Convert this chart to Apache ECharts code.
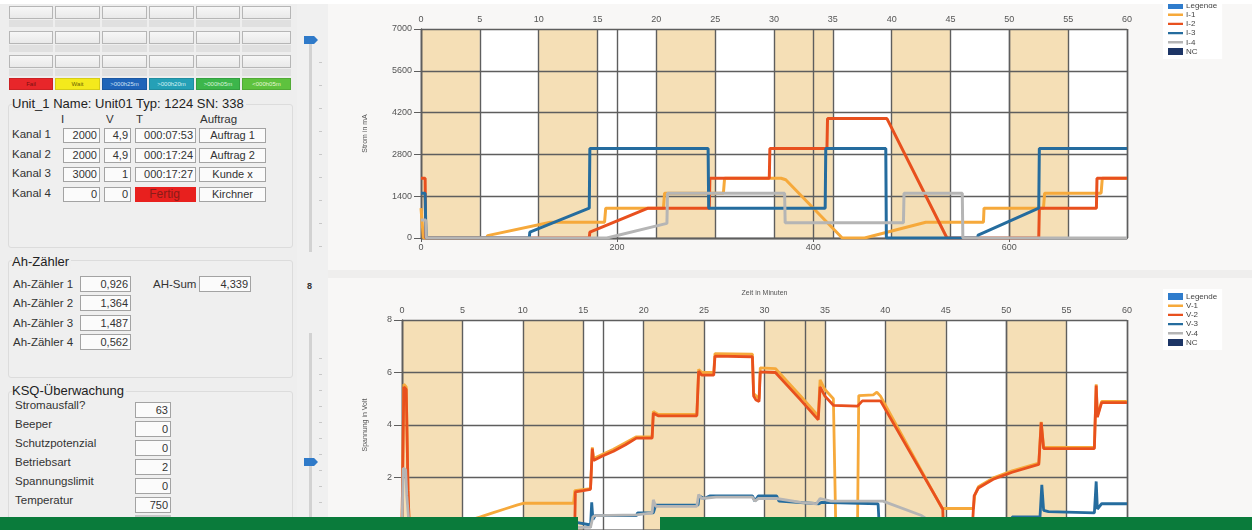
<!DOCTYPE html>
<html><head><meta charset="utf-8">
<script src="https://cdn.jsdelivr.net/npm/echarts@6/dist/echarts.min.js"></script>
<style>
html,body{margin:0;padding:0;}
body{width:1252px;height:530px;overflow:hidden;position:relative;background:#eeeeee;font-family:"Liberation Sans",Arial,sans-serif;color:#333;}
.btn{position:absolute;box-sizing:border-box;border:1px solid #b6b6b6;background:linear-gradient(#f7f7f7,#e9e9e9);}
.bar{position:absolute;background:#e0e0e0;}
.st{position:absolute;box-sizing:border-box;height:12px;font-size:6px;line-height:11px;text-align:center;border:1px solid rgba(0,0,0,0.12);}
.grp{position:absolute;box-sizing:border-box;border:1px solid #dcdcdc;border-radius:3px;background:#efefef;}
.ttl{position:absolute;font-size:13px;white-space:nowrap;color:#222;line-height:15px;}
.lbl{position:absolute;font-size:11.5px;white-space:nowrap;line-height:14px;color:#333;}
.tb{position:absolute;box-sizing:border-box;border:1px solid #a3a3a3;background:#fbfbfb;font-size:11px;text-align:right;padding-right:2px;line-height:13px;height:15px;white-space:nowrap;color:#333;}
.tick{position:absolute;width:3px;height:1px;background:#c8c8c8;}
#chart{position:absolute;left:328px;top:0;width:924px;height:530px;}
</style></head>
<body>
<div id="left"></div>
<div id="chart"></div>
<div style="position:absolute;left:0;top:0;width:1252px;height:4px;background:#ffffff;z-index:10"></div>
<div style="position:absolute;left:0;top:517px;width:578px;height:13px;background:#0a7b3b;z-index:10"></div>
<div style="position:absolute;left:660px;top:517px;width:592px;height:13px;background:#0a7b3b;z-index:10"></div>
<script>
// ---------- data ----------
const minuteTicks = [0,5,10,15,20,25,30,35,40,45,50,55,60];
const sampleTicks = [0,200,400,600];
const sampleMax = 720;
const currentTicks = [0,1400,2800,4200,5600,7000];
const voltTicks = [0,2,4,6,8];
const bandRanges = [[0,5],[10,15],[20,25],[30,35],[40,45],[50,55]];

const currentNames = ['I-1','I-2','I-3','I-4'];
const voltNames = ['V-1','V-2','V-3','V-4'];

// current in mA over minutes
const i1 = [[0,1000],[0.15,1000],[0.2,0],[5.6,0],[5.65,80],[11.0,530],[15.6,530],[15.7,1000],[20.6,1000],[20.7,1500],[25.7,1500],[25.8,2000],[30.6,2000],[31.0,1950],[35.8,0],[37.7,0],[37.75,60],[42.9,530],[47.8,530],[47.85,1000],[52.9,1000],[53.0,1500],[57.8,1500],[57.9,2000],[60,2000]];
const i2 = [[0,2000],[0.35,2000],[0.4,0],[14.3,0],[14.35,200],[19.3,1000],[24.5,1000],[24.55,2000],[29.6,2000],[29.65,3000],[34.5,3000],[34.55,4000],[39.6,4000],[44.7,0],[52.5,0],[52.55,1000],[57.4,1000],[57.45,2000],[60,2000]];
const i3 = [[0,1500],[0.35,1500],[0.4,500],[0.45,0],[9.2,0],[9.25,200],[14.3,1000],[14.35,3000],[24.4,3000],[24.45,1000],[34.35,1000],[34.4,3000],[39.5,3000],[39.55,0],[47.3,0],[47.35,100],[52.5,1000],[52.55,3000],[60,3000]];
const i4 = [[0,600],[0.4,600],[0.45,0],[15.8,0],[15.85,30],[20.9,490],[20.95,1500],[30.9,1500],[30.95,510],[41.0,510],[41.05,1500],[46.0,1500],[46.05,0],[60,0]];

// voltage in V over minutes
const v1 = [[0,0.2],[0.15,5.55],[0.35,5.45],[0.5,1.5],[0.6,0.1],[5.6,0.1],[5.65,0.38],[6.5,0.5],[7.5,0.65],[8.5,0.8],[9.5,0.95],[10.1,1.02],[14.2,1.02],[14.3,1.5],[15.6,1.58],[15.75,3.15],[15.85,2.72],[17.5,3.08],[19.4,3.55],[20.7,3.55],[20.8,4.52],[21.2,4.4],[24.4,4.4],[24.55,6.12],[24.8,6.0],[25.8,6.0],[25.9,6.72],[29.0,6.7],[29.1,5.2],[29.55,5.0],[29.65,6.18],[30.9,6.15],[33.0,5.1],[34.45,4.35],[34.6,5.72],[35.0,5.35],[35.7,5.0],[35.85,5.0],[35.9,0.1],[37.7,0.1],[37.8,5.12],[39.0,5.15],[39.3,5.25],[39.6,5.1],[44.7,0.82],[47.3,0.82],[47.4,1.32],[47.7,1.65],[49.0,2.0],[50.5,2.25],[52.7,2.55],[52.9,4.12],[53.1,3.15],[57.3,3.15],[57.45,5.55],[57.55,4.35],[57.9,4.9],[60,4.9]];
const v2 = [[0,0.2],[0.15,5.45],[0.35,5.35],[0.5,1.5],[0.6,0.2],[14.3,0.2],[14.35,1.45],[15.0,1.5],[15.6,1.55],[15.75,3.1],[15.85,2.65],[16.5,2.8],[17.5,3.0],[18.5,3.25],[19.4,3.5],[20.7,3.5],[20.8,4.45],[21.2,4.35],[24.4,4.35],[24.55,6.05],[24.8,5.9],[25.8,5.9],[25.9,6.62],[29.0,6.6],[29.1,5.1],[29.3,4.95],[29.55,4.9],[29.65,6.02],[30.9,6.0],[33.0,4.95],[34.45,4.2],[34.6,5.45],[35.0,5.1],[35.7,4.75],[37.7,4.72],[38.1,4.92],[39.6,4.92],[44.75,0.8],[44.8,0.1],[47.2,0.1],[47.35,1.3],[47.7,1.6],[49.0,1.95],[50.5,2.2],[52.7,2.5],[52.9,4.1],[53.1,3.1],[57.3,3.1],[57.45,5.5],[57.55,4.3],[57.9,4.85],[60,4.85]];
const v3 = [[0,0.1],[14.2,0.1],[14.3,0.3],[15.5,0.2],[15.6,0.1],[15.7,1.05],[15.8,0.4],[16.0,0.55],[19.4,0.55],[19.5,0.65],[20.8,0.65],[21.0,0.95],[24.5,0.95],[24.6,1.3],[25.0,1.2],[25.5,1.3],[29.0,1.3],[29.2,1.1],[29.5,1.3],[31.0,1.3],[31.2,1.1],[34.5,1.0],[34.7,1.05],[39.4,1.0],[39.5,0.1],[50.4,0.1],[50.5,0.5],[52.8,0.5],[52.95,1.72],[53.1,0.75],[53.5,0.7],[57.3,0.65],[57.45,1.85],[57.55,0.8],[57.9,1.0],[60,1.0]];
const v4 = [[0,0.1],[0.1,2.35],[0.3,2.3],[0.4,1.3],[0.6,0.1],[15.6,0.1],[15.8,0.5],[16.0,0.55],[19.4,0.58],[19.5,0.65],[20.7,0.65],[20.8,1.15],[21.0,0.9],[24.4,0.9],[24.55,1.35],[24.8,1.2],[26.0,1.25],[29.0,1.25],[29.2,1.1],[29.5,1.2],[31.0,1.2],[33.0,1.05],[34.3,1.0],[34.6,1.2],[35.5,1.1],[39.8,1.1],[43.0,0.55],[44.5,0.1],[60,0.1]];

// left panel values
const statusLabels = ['Fail','Wait','>000h25m','>000h20m','>000h05m','<000h05m'];
const kanalNames = ['Kanal 1','Kanal 2','Kanal 3','Kanal 4'];
const kanalI = ['2000','2000','3000','0'];
const kanalV = ['4,9','4,9','1','0'];
const kanalT = ['000:07:53','000:17:24','000:17:27','Fertig'];
const kanalAuftrag = ['Auftrag 1','Auftrag 2','Kunde x','Kirchner'];
const ahNames = ['Ah-Zähler 1','Ah-Zähler 2','Ah-Zähler 3','Ah-Zähler 4'];
const ahValues = ['0,926','1,364','1,487','0,562'];
const ahSum = '4,339';
const ksqNames = ['Stromausfall?','Beeper','Schutzpotenzial','Betriebsart','Spannungslimit','Temperatur'];
const ksqValues = ['63','0','0','2','0','750'];

// ---------- left panel ----------
(function(){
  const L = document.getElementById('left');
  let h = '';
  const colX = [9,55,102,149,196,242], colW = [44,45,45,45,44,49];
  [6,31,55].forEach(y => colX.forEach((x,i) => h += `<div class="btn" style="left:${x}px;top:${y}px;width:${colW[i]}px;height:13px"></div>`));
  [20,45,69].forEach(y => colX.forEach((x,i) => h += `<div class="bar" style="left:${x}px;top:${y}px;width:${colW[i]}px;height:7px"></div>`));
  const stBg = ['#e8262a','#f4ea1c','#1f64b9','#25a0b6','#3cb64b','#5ec23e'];
  const stFg = ['#7a1010','#6b6300','#cfe0f5','#d6f1f5','#d8f5da','#e5f7d8'];
  statusLabels.forEach((s,i)=> h += `<div class="st" style="left:${colX[i]}px;top:78px;width:${colW[i]}px;background:${stBg[i]};color:${stFg[i]}">${s.replace('<','&lt;').replace('>','&gt;')}</div>`);
  // group boxes
  h += `<div class="grp" style="left:8px;top:104px;width:285px;height:144px"></div>`;
  h += `<div class="ttl" style="left:12px;top:96px;background:#eeeeee;padding-right:2px">Unit_1 Name: Unit01 Typ: 1224 SN: 338</div>`;
  h += `<div class="lbl" style="left:61px;top:112px">I</div><div class="lbl" style="left:106px;top:112px">V</div><div class="lbl" style="left:136px;top:112px">T</div><div class="lbl" style="left:200px;top:112px">Auftrag</div>`;
  const rowTop = [128,148,167,187];
  kanalNames.forEach((n,i)=>{
    const y = rowTop[i];
    h += `<div class="lbl" style="left:12px;top:${y-1}px">${n}</div>`;
    h += `<div class="tb" style="left:63px;top:${y}px;width:37px">${kanalI[i]}</div>`;
    h += `<div class="tb" style="left:104px;top:${y}px;width:27px">${kanalV[i]}</div>`;
    if (kanalT[i]==='Fertig') h += `<div class="tb" style="left:135px;top:${y}px;width:61px;background:#e8201e;border-color:#e8201e;text-align:center;color:#8a1c18;font-size:12px">${kanalT[i]}</div>`;
    else h += `<div class="tb" style="left:135px;top:${y}px;width:61px">${kanalT[i]}</div>`;
    h += `<div class="tb" style="left:199px;top:${y}px;width:67px;text-align:center;padding:0">${kanalAuftrag[i]}</div>`;
  });
  h += `<div class="grp" style="left:8px;top:260px;width:285px;height:118px"></div>`;
  h += `<div class="ttl" style="left:12px;top:254px;background:#eeeeee;padding-right:2px">Ah-Zähler</div>`;
  const ahTop = [276,295,315,334];
  ahNames.forEach((n,i)=>{
    h += `<div class="lbl" style="left:13px;top:${ahTop[i]+1}px">${n}</div>`;
    h += `<div class="tb" style="left:80px;top:${ahTop[i]}px;width:51px;height:16px;line-height:14px">${ahValues[i]}</div>`;
  });
  h += `<div class="lbl" style="left:153px;top:277px">AH-Sum</div>`;
  h += `<div class="tb" style="left:199px;top:276px;width:52px;height:16px;line-height:14px">${ahSum}</div>`;
  h += `<div class="grp" style="left:8px;top:391px;width:285px;height:140px"></div>`;
  h += `<div class="ttl" style="left:12px;top:383px;background:#eeeeee;padding-right:2px">KSQ-Überwachung</div>`;
  const ksqTop = [402,421,440,459,478,497];
  ksqNames.forEach((n,i)=>{
    h += `<div class="lbl" style="left:15px;top:${ksqTop[i]-4}px">${n}</div>`;
    h += `<div class="tb" style="left:135px;top:${ksqTop[i]}px;width:36px;height:16px;line-height:14px">${ksqValues[i]}</div>`;
  });
  h += `<div style="position:absolute;left:135px;top:515px;width:36px;height:4px;background:#c8c8c8"></div>`;
  // slider column
  h += `<div style="position:absolute;left:297px;top:0;width:31px;height:530px;background:#f0f0f0"></div>`;
  h += `<div style="position:absolute;left:309px;top:40px;width:3px;height:212px;background:#d2d2d2"></div>`;
  h += `<div style="position:absolute;left:309px;top:333px;width:3px;height:197px;background:#d2d2d2"></div>`;
  for (let y=62;y<250;y+=23) h += `<div class="tick" style="left:319px;top:${y}px"></div>`;
  for (let y=358;y<530;y+=16) h += `<div class="tick" style="left:319px;top:${y}px"></div>`;
  const thumb = 'clip-path:polygon(0 0,72% 0,100% 50%,72% 100%,0 100%);background:#2f7ac9;';
  h += `<div style="position:absolute;left:304px;top:36px;width:14px;height:8px;${thumb}"></div>`;
  h += `<div style="position:absolute;left:304px;top:458px;width:14px;height:8px;${thumb}"></div>`;
  h += `<div style="position:absolute;left:307px;top:281px;font-size:9px;font-weight:bold;color:#333">8</div>`;
  L.innerHTML = h;
})();

// ---------- charts ----------
const seriesColors = ['#f6a93b','#e8501e','#256c9e','#b5b5b5'];
const legendBoxColor = '#2f7ccc';
const ncColor = '#1d3566';
const gridColor = '#5e5e5e';
const thinIcon = 'path://M0,0L0.01,0M0,7L0.01,7M0,2.3L15,2.3L15,4.7L0,4.7Z';
const plain = v => String(v);

function lineSeries(name, data, color, xi, yi, extra) {
  return Object.assign({
    name, type:'line', data, xAxisIndex:xi, yAxisIndex:yi, showSymbol:false, symbol:'none',
    color, lineStyle:{color, width:3}, silent:true, animation:false, z:2
  }, extra||{});
}
function bandArea() {
  return { silent:true, itemStyle:{color:'#f5dfb6'}, data: bandRanges.map(r => [{xAxis:r[0]},{xAxis:r[1]}]) };
}
const labelStyle = {color:'#555', fontSize:9, fontFamily:'Liberation Sans', formatter:plain};
function minuteAxis(gi, margin) {
  return {type:'value', gridIndex:gi, position:'top', min:minuteTicks[0], max:minuteTicks[minuteTicks.length-1],
    interval:minuteTicks[1]-minuteTicks[0], z:1.6,
    name:'Zeit in Minuten', nameLocation:'middle', nameGap: gi===0 ? 26 : 23,
    nameTextStyle:{color:'#555', fontSize:7, fontFamily:'Liberation Sans'},
    axisLine:{show:true, lineStyle:{color:gridColor, width:1.4}},
    axisTick:{show:true, length:3, lineStyle:{color:gridColor}},
    axisLabel:Object.assign({margin:margin}, labelStyle),
    splitLine:{show:true, lineStyle:{color:gridColor, width:1.4}}};
}
function sampleAxis(gi) {
  return {type:'value', gridIndex:gi, position:'bottom', min:sampleTicks[0], max:sampleMax,
    interval:sampleTicks[1]-sampleTicks[0], z:1.6,
    axisLine:{show:true, lineStyle:{color:gridColor, width:1.4}},
    axisTick:{show:true, length:4, lineStyle:{color:gridColor}},
    axisLabel:Object.assign({margin:5, showMaxLabel:false}, labelStyle),
    splitLine:{show:true, lineStyle:{color:gridColor, width:1.4}}};
}
function valueAxis(gi, ticks, name, nameGap, tickLen, margin) {
  return {type:'value', gridIndex:gi, min:ticks[0], max:ticks[ticks.length-1], interval:ticks[1]-ticks[0], z:1.6,
    name, nameLocation:'middle', nameGap, nameTextStyle:{color:'#555', fontSize:7, fontFamily:'Liberation Sans'},
    axisLine:{show:true, lineStyle:{color:gridColor, width:1.4}},
    axisTick:{show:true, length:tickLen, lineStyle:{color:gridColor}},
    axisLabel:Object.assign({margin}, labelStyle),
    splitLine:{show:true, lineStyle:{color:gridColor, width:1.4}}};
}
function legendFor(names, top) {
  return {top, left:835, orient:'vertical', selectedMode:false, backgroundColor:'#ffffff', padding:[3,5,3,5],
    itemWidth:15, itemHeight:7, itemGap:0.2, itemStyle:{borderWidth:0},
    textStyle:{fontSize:8, lineHeight:9, color:'#444', fontFamily:'Liberation Sans', padding:[0,0,0,-2]},
    data:[{name:'Legende', icon:'rect'}].concat(names.map(n=>({name:n, icon:thinIcon}))).concat([{name:'NC', icon:'rect'}])};
}

const topData = [i1,i2,i3,i4];
const botData = [v1,v2,v3,v4];
const series = [];
// top chart
series.push(lineSeries('Legende', [], legendBoxColor, 0, 0));
currentNames.forEach((n,k)=> series.push(lineSeries(n, topData[k], seriesColors[k], 0, 0, k===0 ? {markArea:bandArea()} : null)));
series.push(lineSeries('NC', [], ncColor, 0, 0));
// bottom chart
series.push(lineSeries('Legende', [], legendBoxColor, 2, 1));
voltNames.forEach((n,k)=> series.push(lineSeries(n, botData[k], seriesColors[k], 2, 1, Object.assign({lineStyle:{color:seriesColors[k], width:2.8}}, k===0 ? {markArea:bandArea()} : {}))));
series.push(lineSeries('NC', [], ncColor, 2, 1));

const option = {
  backgroundColor:'#f8f7f6',
  animation:false,
  graphic:[{type:'rect', shape:{x:0,y:270,width:924,height:8}, style:{fill:'#efeeed'}, silent:true}],
  grid:[
    {left:93, top:29, width:706, height:209, show:true, backgroundColor:'#ffffff', borderWidth:0, containLabel:false, outerBoundsMode:'none'},
    {left:74, top:320, width:725, height:210, show:true, backgroundColor:'#ffffff', borderWidth:0, containLabel:false, outerBoundsMode:'none'}
  ],
  xAxis:[minuteAxis(0,5), sampleAxis(0), minuteAxis(1,5), sampleAxis(1)],
  yAxis:[valueAxis(0, currentTicks, 'Strom in mA', 52, 7, 9), valueAxis(1, voltTicks, 'Spannung in Volt', 33, 8, 10)],
  legend:[legendFor(currentNames, -2), legendFor(voltNames, 289)],
  series
};
const chart = echarts.init(document.getElementById('chart'), null, {renderer:'canvas'});
chart.setOption(option);
</script>
</body></html>
